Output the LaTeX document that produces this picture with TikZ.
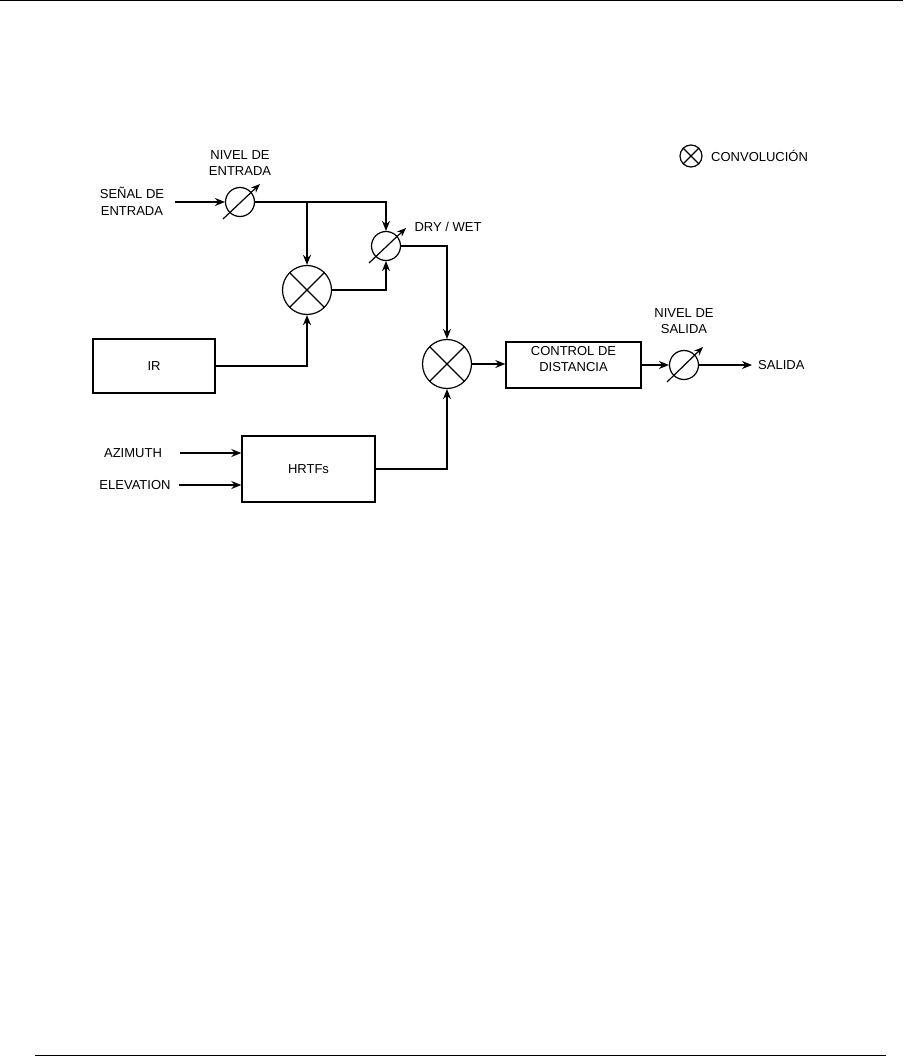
\documentclass[tikz,border=0pt]{standalone}
\usepackage{fontspec}
\setmainfont{Liberation Sans}
\usetikzlibrary{arrows.meta}
\tikzset{
  every picture/.style={x=1pt,y=-1pt},
  lbl/.style={align=center,inner sep=0pt,font=\fontsize{13}{16.5}\selectfont},
  conn/.style={line width=1.2pt,-{Stealth[length=10pt,width=8pt]}},
  boldconn/.style={line width=1.8pt,-{Stealth[length=10pt,width=8pt]}},
  blockbox/.style={draw,line width=1.4pt,inner sep=0pt,font=\fontsize{13}{15}\selectfont,align=center},
  conv/.style={circle,draw,line width=1.2pt,inner sep=0pt,minimum size=#1,
    path picture={\draw[line width=1.2pt] (path picture bounding box.north west) -- (path picture bounding box.south east)
      (path picture bounding box.north east) -- (path picture bounding box.south west);}},
  pot/.style={circle,draw,line width=1.2pt,inner sep=0pt,minimum size=29pt},
  potarrow/.style={line width=1.2pt,-{Stealth[length=9pt,width=7pt]}}
}
\begin{document}
\begin{tikzpicture}
\useasboundingbox (0,0) rectangle (903,1057);
% page rules
\coordinate (t1) at (0,0.7); \coordinate (t2) at (903,0.7);
\draw[line width=1.3pt] (t1) -- (t2);
\coordinate (b1) at (35,1055.5); \coordinate (b2) at (886,1055.5);
\draw[line width=1.3pt] (b1) -- (b2);

% legend
\node[conv=22pt] (leg) at (691,156) {};
\node[lbl,anchor=west] (legtxt) at (711,156) {CONVOLUCIÓN};

% input section
\node[lbl] (senal) at (132,201.5) {SEÑAL DE\\ENTRADA};
\coordinate (in1) at (175,202);
\node[pot] (p1) at (240,202) {};
\draw[potarrow] ([shift={(-17,17)}]p1.center) -- ([shift={(20,-18)}]p1.center);
\node[lbl] (nivelin) at (240,163) {NIVEL DE\\ENTRADA};
\draw[conn] (in1) -- (p1.west);

% dry/wet pot
\node[pot] (p2) at (386,246) {};
\draw[potarrow] ([shift={(-17,17)}]p2.center) -- ([shift={(20,-18)}]p2.center);
\node[lbl] (drywet) at (448,227) {DRY / WET};

% convolution 1
\node[conv=49pt] (c1) at (307,290) {};
\coordinate (br) at (307,202);
\draw[conn] (p1.east) -| (p2.north);
\draw[boldconn] (br) -- (c1.north);
\draw[conn] (c1.east) -| (p2.south);

% IR
\node[blockbox,minimum width=122pt,minimum height=54pt] (ir) at (154,366) {IR};
\draw[boldconn] (ir.east) -| (c1.south);

% convolution 2
\node[conv=49pt] (c2) at (447,364) {};
\draw[conn] (p2.east) -| (c2.north);

% HRTFs
\node[blockbox,minimum width=133pt,minimum height=66pt] (hrtf) at (308.5,469) {HRTFs};
\draw[conn] (hrtf.east) -| (c2.south);
\node[lbl] (az) at (133,453) {AZIMUTH};
\node[lbl] (el) at (135,485) {ELEVATION};
\coordinate (azs) at (180,453);
\coordinate (els) at (179,485);
\draw[conn] (azs) -- (azs -| hrtf.west);
\draw[conn] (els) -- (els -| hrtf.west);

% control de distancia
\node[draw,line width=1.4pt,minimum width=135pt,minimum height=46pt,inner sep=0pt] (ctrl) at (573.5,365) {};
\node[lbl,font=\fontsize{13}{15.5}\selectfont] (ctrltxt) at (573.5,359) {CONTROL DE\\DISTANCIA};
\draw[conn] (c2.east) -- (c2.east -| ctrl.west);

% output pot
\node[pot] (p3) at (684,365) {};
\draw[potarrow] ([shift={(-17,17)}]p3.center) -- ([shift={(19,-18)}]p3.center);
\node[lbl] (nivelout) at (684,321) {NIVEL DE\\SALIDA};
\draw[conn] (p3.west -| ctrl.east) -- (p3.west);
\coordinate (out) at (752,365);
\draw[conn] (p3.east) -- (out);
\node[lbl,anchor=west] (salida) at (758,365) {SALIDA};
\end{tikzpicture}
\end{document}
